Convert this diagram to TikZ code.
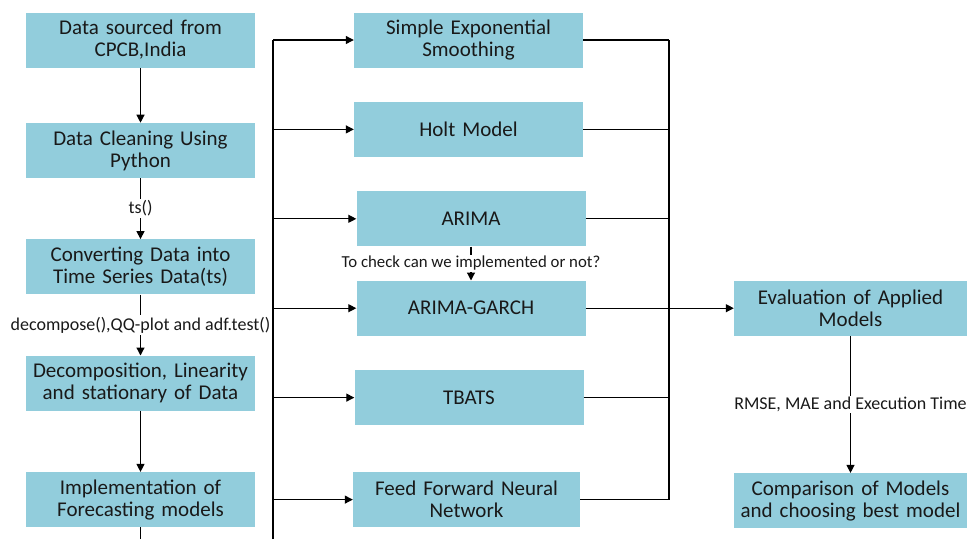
\documentclass[tikz,border=0pt]{standalone}
\usepackage{fontspec}
\setmainfont{Carlito}
\usetikzlibrary{arrows.meta,positioning,chains,scopes}
\definecolor{boxblue}{RGB}{146,205,220}
\tikzset{%
  stage/.style={fill=boxblue, text=black!90, text width=227pt, align=center, minimum width=229pt, minimum height=55pt, inner sep=0pt, font=\fontsize{21}{22}\selectfont},
  model/.style={stage},
  result/.style={stage, minimum width=233pt, text width=231pt},
  line/.style={draw, line width=1.2pt, -{Triangle[length=8pt,width=8pt]}},
  link/.style={draw, line width=1.2pt},
  tag/.style={fill=white, inner sep=1.5pt, text=black!90, font=\fontsize{18}{20}\selectfont},
}
\newcommand{\feedmodel}[1]{%
  \path [line] (busL |- #1.west) -- (#1.west);}
\newcommand{\collectmodel}[1]{%
  \path [link] (#1.east) -- (busR |- #1.east);}

\begin{document}
\begin{tikzpicture}[x=1pt, y=-1pt, node distance=61pt]
  \useasboundingbox (0,0) rectangle (968,539);

  % preparation steps
  {[start chain=p going below, every on chain/.append style={stage}]
    \node [on chain] at (140.5,40) {Data sourced from\\CPCB,India};
    \node [on chain, yshift=6pt] {Data Cleaning Using\\Python};
    \node [on chain] {Converting Data into\\Time Series Data(ts)};
    \node [on chain] {Decomposition, Linearity\\and stationary of Data};
    \node [on chain] {Implementation of\\Forecasting models};
  }

  % models
  {[start chain=m going below, node distance=34pt, every on chain/.append style={model}]
    \node [on chain] at (468.5,40) {Simple Exponential\\Smoothing};
    \node [on chain] {Holt Model};
    \node [on chain, minimum width=224pt, xshift=2.5pt] {ARIMA};
    \node [on chain] {ARIMA-GARCH};
    \node [on chain, minimum width=225pt, xshift=-2pt] {TBATS};
  }
  \node (m-6) [model, minimum width=225pt] at (466.5,0 |- p-5) {Feed Forward Neural\\Network};

  % evaluation
  \node (e-1) [result] at (850.5,0 |- m-4) {Evaluation of Applied\\Models};
  \node (e-2) [result, below=137pt of e-1] {Comparison of Models\\and choosing best model};

  \coordinate (busL) at (273,40);
  \coordinate (busR) at (669,40);
  \coordinate (cut) at (0,539);

  \path [line] (p-1) -- (p-2);
  \path [line] (p-2) -- node [tag] {ts()} (p-3);
  \path [line] (p-3) -- node [tag, inner xsep=0pt] {decompose(),QQ-plot and adf.test()} (p-4);
  \path [line] (p-4) -- (p-5);
  \path [link] (p-5.south) -- (p-5.south |- cut);
  \path [link] (busL |- cut) -- (busL);

  \feedmodel{m-1}
  \feedmodel{m-2}
  \feedmodel{m-3}
  \feedmodel{m-4}
  \feedmodel{m-5}
  \feedmodel{m-6}

  \collectmodel{m-1}
  \collectmodel{m-2}
  \collectmodel{m-3}
  \collectmodel{m-5}
  \collectmodel{m-6}
  \path [link] (busR |- m-1.east) -- (busR |- m-6.east);

  \path [line] (m-3.south) -- node [tag, font=\fontsize{16.8}{18}\selectfont] {To check can we implemented or not?} (m-3.south |- m-4.north);
  \path [line] (m-4.east) -- (e-1.west);
  \path [line] (e-1) -- node [tag, inner xsep=0pt] {RMSE, MAE and Execution Time} (e-2);
\end{tikzpicture}
\end{document}
